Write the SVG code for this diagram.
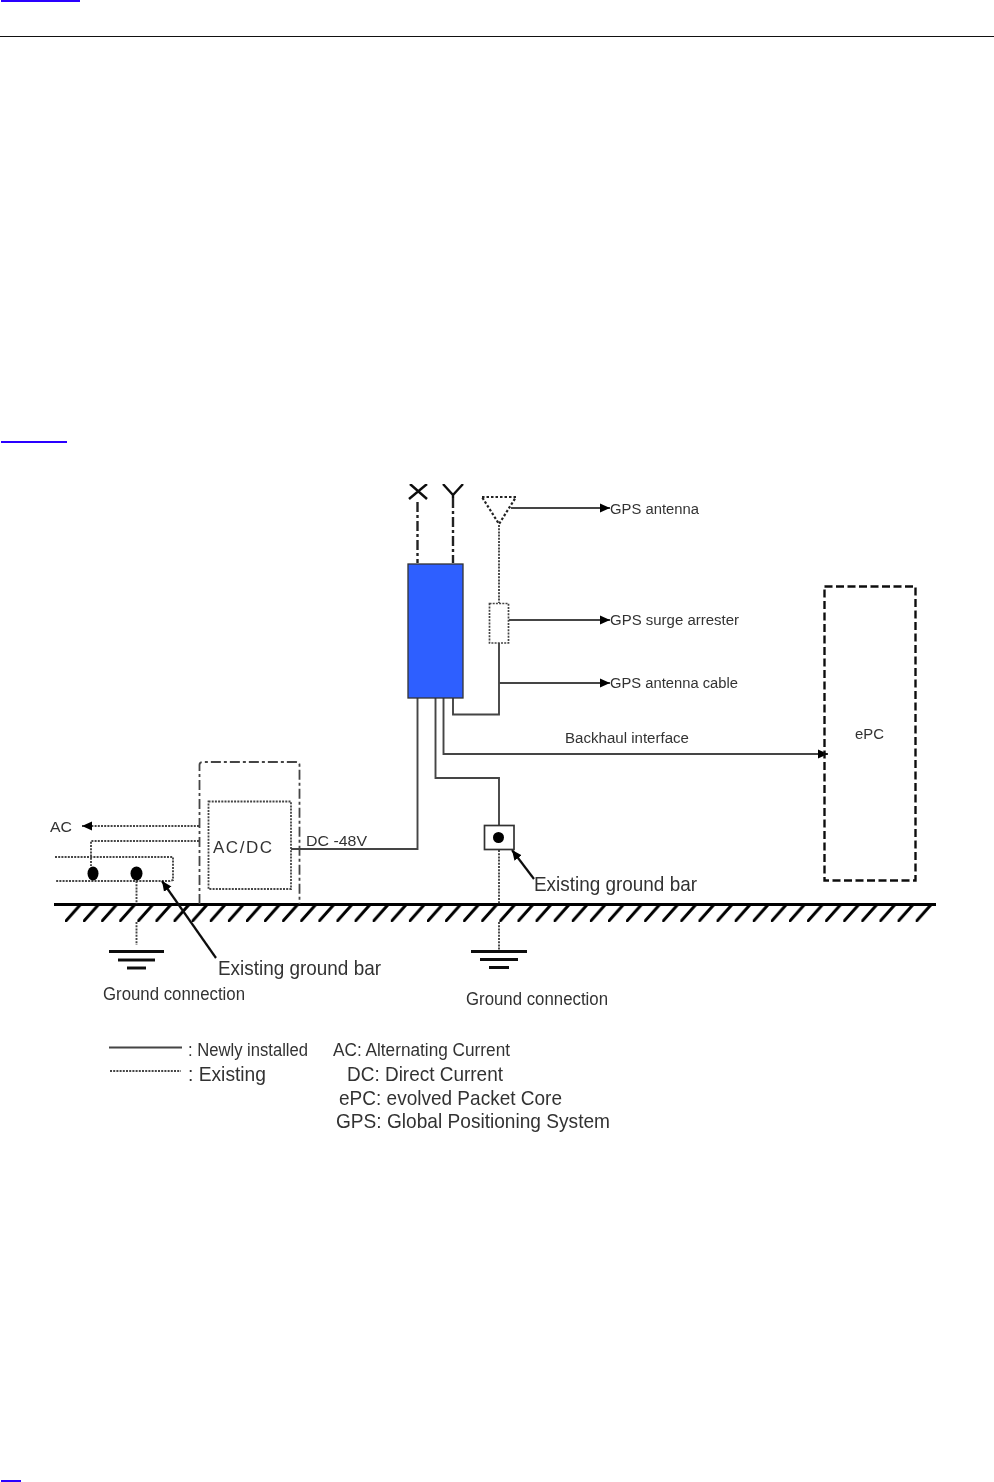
<svg xmlns="http://www.w3.org/2000/svg" width="994" height="1482" viewBox="0 0 994 1482">
<style>
text{font-family:"Liberation Sans",Arial,sans-serif;fill:#333}
.s{font-size:15.5px}.m{font-size:17.500px}.l{font-size:19.800px}
.solid,.dot,.dash,.dd,.box{fill:none}
.solid{stroke:#444;stroke-width:1.900}
.dot{stroke:#444;stroke-width:1.900;stroke-dasharray:2 1.200}
.dd{stroke:#222;stroke-width:2.400;stroke-dasharray:10 3 3 3}
.blk{fill:none;stroke:#111;stroke-width:2.200}
.gnd{stroke:#111;stroke-width:2.800}
.link{fill:#2a00ff}
</style>
<defs>
<marker id="a" markerWidth="10" markerHeight="10" refX="10" refY="5" orient="auto" markerUnits="userSpaceOnUse"><path d="M0 0.500L10 5L0 9.500z" fill="#000"/></marker>
<pattern id="h" patternUnits="userSpaceOnUse" x="65" y="905" width="18.100" height="17"><path d="M-1 18L16 -1" stroke="#000" stroke-width="3" fill="none"/></pattern>
<filter id="b" x="0" y="0" width="1" height="1"><feGaussianBlur stdDeviation="0.650"/></filter>
</defs>
<rect width="994" height="1482" fill="#fff"/>
<g id="page-marks">
<rect class="link" x="1" y="0" width="79" height="2"/>
<rect x="0" y="36" width="994" height="1" fill="#111"/>
<rect class="link" x="1" y="441" width="66" height="2"/>
<rect class="link" x="1" y="1480" width="20" height="2"/>
</g>
<g filter="url(#b)">
<g id="ground-plane">
<rect x="65" y="905" width="867" height="17" fill="url(#h)"/>
<path d="M54 904.500H936" stroke="#000" stroke-width="3.200"/>
</g>
<g id="connectors">
<path class="dd" d="M417.500 502V563M453 498V563"/>
<path class="dot" d="M499 525V603"/>
<path class="solid" d="M511 508H610" marker-end="url(#a)"/>
<path class="solid" d="M509 620H610" marker-end="url(#a)"/>
<path class="solid" d="M499 643V714.500H453V698"/>
<path class="solid" d="M499 683H610" marker-end="url(#a)"/>
<path class="solid" d="M443.500 698V754H828" marker-end="url(#a)"/>
<path class="solid" d="M435.500 698V778H499V825"/>
<path class="solid" d="M417.500 698V849H291"/>
<path class="dot" d="M499 850V904M499 922V951"/>
<path class="dot" d="M199 826H82" marker-end="url(#a)"/>
<path class="dot" d="M199 841H91V866"/>
<path class="dot" d="M55 857H173V880L170 881H55"/>
<path class="dot" d="M136.500 881V904M136.500 922V945"/>
<path class="blk" d="M216 958L162 881" marker-end="url(#a)"/>
<path class="blk" d="M534 879L512 850" marker-end="url(#a)"/>
<path class="solid" d="M109 1047.500H182"/>
<path class="dot" d="M110 1071H181" stroke-dasharray="1.500 1"/>
</g>
<g id="antenna-x"><path d="M410 484L427 499M427 484L409 499" stroke="#111" stroke-width="2.400" fill="none"/></g>
<g id="antenna-y"><path d="M443 484L453 495L463 484M453 495V498" stroke="#111" stroke-width="2.400" fill="none"/></g>
<g id="gps-antenna"><path d="M482 497H516L499 524Z" fill="none" stroke="#222" stroke-width="2.200" stroke-dasharray="2.500 2"/><text class="s" x="610" y="514" textLength="89" lengthAdjust="spacingAndGlyphs">GPS antenna</text></g>
<g id="radio-unit"><rect x="408" y="564" width="55" height="134" fill="#2f5fff" stroke="#333" stroke-width="1.300"/></g>
<g id="gps-surge-arrester"><rect x="489.500" y="603.500" width="19" height="39.500" fill="none" stroke="#444" stroke-width="1.700" stroke-dasharray="2 1.200"/><text class="s" x="610" y="625" textLength="129" lengthAdjust="spacingAndGlyphs">GPS surge arrester</text></g>
<g id="gps-cable"><text class="s" x="610" y="688" textLength="128" lengthAdjust="spacingAndGlyphs">GPS antenna cable</text></g>
<g id="backhaul"><text class="s" x="565" y="743" textLength="124" lengthAdjust="spacingAndGlyphs">Backhaul interface</text></g>
<g id="epc"><rect x="824.500" y="586.500" width="91" height="294" fill="none" stroke="#111" stroke-width="2.400" stroke-dasharray="8 3.500"/><text class="s" x="855" y="739" textLength="29" lengthAdjust="spacingAndGlyphs">ePC</text></g>
<g id="cabinet"><path d="M199.500 904V765Q199.500 762 203 762H296Q299.500 762 299.500 765V904" class="dd" style="stroke-width:1.800;stroke:#444"/></g>
<g id="ac-dc"><rect x="208.500" y="801.500" width="82.500" height="87.500" fill="none" stroke="#444" stroke-width="1.800" stroke-dasharray="2 1.200"/><text x="213" y="853" font-size="17" textLength="59">AC/DC</text></g>
<g id="dc-label"><text class="s" x="306" y="846" textLength="61" lengthAdjust="spacingAndGlyphs">DC -48V</text></g>
<g id="ac-label"><text class="s" x="50" y="832" textLength="22" lengthAdjust="spacingAndGlyphs">AC</text></g>
<g id="ground-bar-left"><ellipse cx="93" cy="873.500" rx="5.500" ry="7" fill="#000"/><ellipse cx="136.500" cy="873.500" rx="6" ry="7" fill="#000"/><text class="l" x="218" y="975" textLength="163" lengthAdjust="spacingAndGlyphs">Existing ground bar</text></g>
<g id="ground-bar-right"><rect x="484.500" y="825.500" width="29.500" height="24" fill="#fff" stroke="#333" stroke-width="1.700"/><circle cx="498.500" cy="837.500" r="5.500" fill="#000"/><text class="l" x="534" y="891" textLength="163" lengthAdjust="spacingAndGlyphs">Existing ground bar</text></g>
<g id="ground-left"><path class="gnd" d="M109 951.500H164M118 960H155M127 968H146"/><text class="m" x="103" y="1000" textLength="142" lengthAdjust="spacingAndGlyphs">Ground connection</text></g>
<g id="ground-right"><path class="gnd" d="M471 951.500H527M480 959.500H518M489 967.500H509"/><text class="m" x="466" y="1005" textLength="142" lengthAdjust="spacingAndGlyphs">Ground connection</text></g>
<g id="legend">
<text class="m" x="188" y="1056" textLength="120" lengthAdjust="spacingAndGlyphs">: Newly installed</text>
<text class="l" x="188" y="1081" textLength="78" lengthAdjust="spacingAndGlyphs">: Existing</text>
<text class="m" x="333" y="1056" textLength="177" lengthAdjust="spacingAndGlyphs">AC: Alternating  Current</text>
<text class="l" x="347" y="1081" textLength="156" lengthAdjust="spacingAndGlyphs">DC: Direct Current</text>
<text class="l" x="339" y="1105" textLength="223" lengthAdjust="spacingAndGlyphs">ePC: evolved Packet Core</text>
<text class="l" x="336" y="1128" textLength="274" lengthAdjust="spacingAndGlyphs">GPS: Global Positioning System</text>
</g>
</g>
</svg>
